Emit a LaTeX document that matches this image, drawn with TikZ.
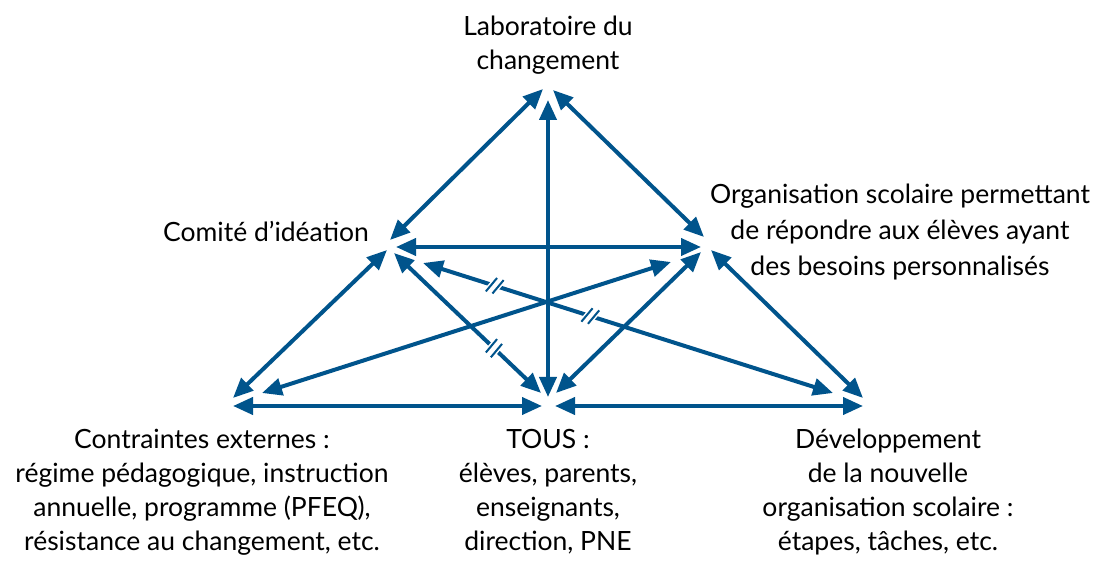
\documentclass[tikz,border=0pt]{standalone}
\usepackage{fontspec}
\setmainfont{Lato}
\usetikzlibrary{arrows.meta,calc}
\definecolor{arr}{RGB}{0,84,140}
\begin{document}
\begin{tikzpicture}[x=1pt,y=-1pt,
  conn/.style={draw=arr,line width=4pt,{Triangle[length=20pt,width=17pt]}-{Triangle[length=20pt,width=17pt]}},
  lbl/.style={font=\fontsize{26.5}{34}\selectfont,align=center,inner sep=0pt,text=black},
  slashcase/.style={draw=white,line width=5pt},
  slashline/.style={draw=arr,line width=2pt}]
\useasboundingbox[fill=white] (0,0) rectangle (1096,561);

% labels
\node[lbl,anchor=north] (lab) at (548,16) {Laboratoire du\\changement};
\node[lbl,anchor=base] (com) at (266,242) {Comité d’idéation};
\node[lbl,anchor=north,font=\fontsize{26.5}{36}\selectfont] (org) at (900,184) {Organisation scolaire permettant\\de répondre aux élèves ayant\\des besoins personnalisés};
\node[lbl,anchor=north] (con) at (202,429) {Contraintes externes :\\régime pédagogique, instruction\\annuelle, programme (PFEQ),\\résistance au changement, etc.};
\node[lbl,anchor=north] (tous) at (548,429) {TOUS :\\élèves, parents,\\enseignants,\\direction, PNE};
\node[lbl,anchor=north] (dev) at (888,429) {Développement\\de la nouvelle\\organisation scolaire :\\étapes, tâches, etc.};

% connector end points
\coordinate (tC) at (543,89);  \coordinate (cT) at (390,240);
\coordinate (tO) at (553,90);  \coordinate (oT) at (704,237);
\coordinate (tB) at (548,100); \coordinate (bT) at (548,397);
\coordinate (cO) at (396,247); \coordinate (oC) at (701,247);
\coordinate (cL) at (387,250); \coordinate (lC) at (233,398);
\coordinate (oR) at (711,250); \coordinate (rO) at (863,398);
\coordinate (lO) at (262,393); \coordinate (oL) at (671,262);
\coordinate (cR) at (423,263); \coordinate (rC) at (833,393);
\coordinate (cB) at (394,253); \coordinate (bC) at (541,393);
\coordinate (oB) at (701,252); \coordinate (bO) at (556,393);
\coordinate (lB) at (233,406); \coordinate (bL) at (542,406);
\coordinate (bR) at (555,406); \coordinate (rB) at (863,406);

\draw[conn] (tC) -- (cT);
\draw[conn] (tO) -- (oT);
\draw[conn] (tB) -- (bT);
\draw[conn] (cO) -- (oC);
\draw[conn] (cL) -- (lC);
\draw[conn] (oR) -- (rO);
\draw[conn] (lO) -- (oL);
\draw[conn] (cR) -- (rC);
\draw[conn] (cB) -- (bC);
\draw[conn] (oB) -- (bO);
\draw[conn] (lB) -- (bL);
\draw[conn] (bR) -- (rB);

% break marks
\coordinate (m1) at ($(cR)!0.175!(rC)$);
\coordinate (m2) at ($(cR)!0.408!(rC)$);
\coordinate (m3) at ($(cB)!0.68!(bC)$);
\foreach \m/\gx/\gy in {m1/3.3/1.05, m2/3.3/1.05, m3/2.5/2.4}{
  \draw[slashcase] ($(\m)-(\gx,\gy)-(5.6,-6.7)$) -- ($(\m)-(\gx,\gy)+(5.6,-6.7)$);
  \draw[slashcase] ($(\m)+(\gx,\gy)-(5.6,-6.7)$) -- ($(\m)+(\gx,\gy)+(5.6,-6.7)$);
  \draw[white,line width=5pt] ($(\m)-(\gx,\gy)$) -- ($(\m)+(\gx,\gy)$);
  \draw[slashline] ($(\m)-(\gx,\gy)-(5.6,-6.7)$) -- ($(\m)-(\gx,\gy)+(5.6,-6.7)$);
  \draw[slashline] ($(\m)+(\gx,\gy)-(5.6,-6.7)$) -- ($(\m)+(\gx,\gy)+(5.6,-6.7)$);
}
\end{tikzpicture}
\end{document}
